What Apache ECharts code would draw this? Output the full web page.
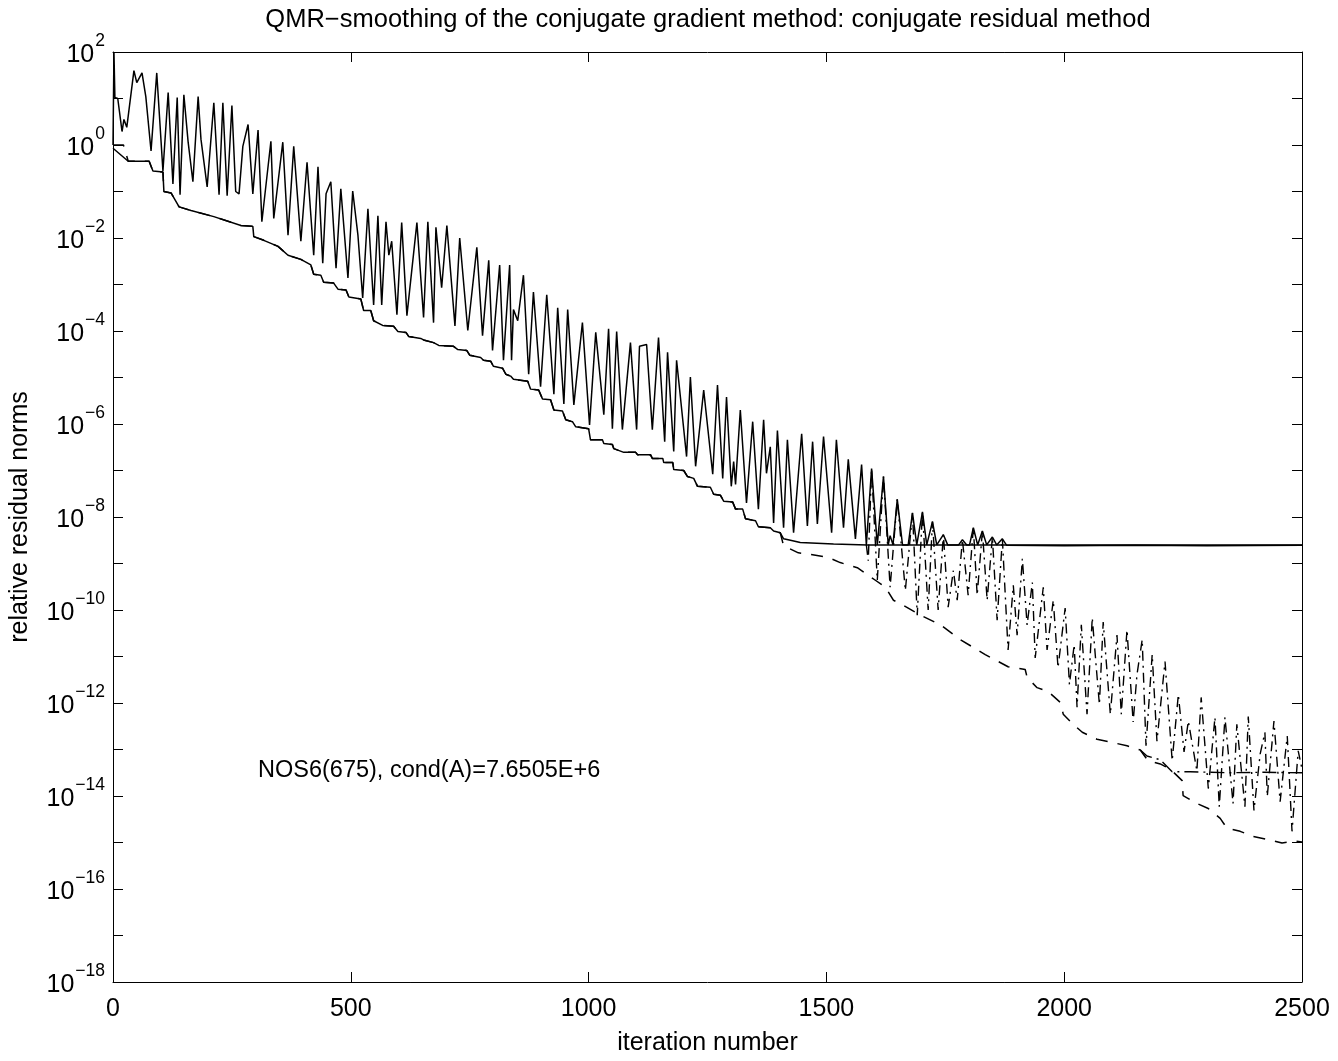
<!DOCTYPE html>
<html><head><meta charset="utf-8">
<script src="https://cdn.jsdelivr.net/npm/echarts@6/dist/echarts.min.js"></script>
<style>html,body{margin:0;padding:0;background:#fff}#c{width:1338px;height:1061px}</style>
</head><body><div id="c"></div>
<script>
// ---- data (iteration numbers and log10 of the relative residual norm) ----
const cgIter = [0,2,4,10,19,23,29,44,50,61,69,80,92,105,116,126,135,141,149,158,168,179,185,198,212,223,231,240,250,258,265,273,284,294,305,313,332,338,357,368,380,395,408,422,431,441,448,458,469,479,494,504,515,525,536,548,557,565,574,580,586,597,607,618,639,653,662,674,679,691,702,719,729,746,765,777,790,798,813,821,834,838,842,851,863,874,884,899,912,927,935,948,956,969,979,987,1002,1015,1032,1042,1050,1059,1071,1088,1101,1107,1122,1134,1147,1160,1166,1179,1185,1206,1214,1225,1242,1261,1271,1282,1290,1300,1305,1309,1319,1332,1345,1357,1368,1374,1382,1389,1397,1410,1418,1431,1448,1460,1471,1481,1494,1511,1521,1536,1546,1561,1574,1584,1595,1607,1620,1630,1634,1640,1649,1660,1672,1681,1690,1694,1702,1711,1723,1732,1746,1755,1778,1786,1795,1801,1809,1818,1821,1828,1837,1841,1849,1858,1862,1870,1879,2000,2150,2300,2500];
const cgLog = [0,2,1.02,1.0,0.29,0.55,0.38,1.6,1.34,1.55,1.04,-0.13,1.55,-0.56,1.13,-0.84,1.02,-1.07,1.08,0.06,-0.79,1.04,0.12,-0.9,0.91,-1.07,0.91,-1.09,0.85,-1.0,-1.05,-0.03,0.44,-1.05,0.32,-1.65,0.08,-1.58,0.06,-1.94,-0.03,-2.07,-0.37,-2.37,-0.47,-2.54,-1.05,-0.79,-2.65,-0.94,-2.86,-0.99,-1.94,-3.29,-1.37,-3.44,-1.52,-3.44,-1.65,-2.37,-2.07,-3.65,-1.67,-3.67,-1.67,-3.71,-1.65,-3.82,-1.77,-3.07,-1.73,-3.89,-2.0,-3.99,-2.2,-4.1,-2.48,-4.42,-2.58,-4.63,-2.58,-4.63,-3.54,-3.78,-2.8,-4.93,-3.16,-5.2,-3.22,-5.36,-3.5,-5.57,-3.54,-5.59,-4.6,-3.82,-6.02,-4.03,-5.8,-3.95,-6.1,-4.01,-6.12,-4.25,-6.12,-4.33,-4.29,-6.12,-4.14,-6.38,-4.46,-6.59,-4.63,-6.7,-4.99,-6.91,-5.27,-7.08,-5.16,-7.17,-5.42,-7.34,-6.81,-7.3,-5.7,-7.7,-5.95,-7.83,-5.91,-7.06,-6.49,-8.13,-6.14,-8.23,-6.34,-8.34,-6.21,-8.19,-6.38,-8.15,-6.27,-8.34,-6.34,-8.23,-6.76,-8.47,-6.87,-8.6,-6.96,-8.6,-7.13,-8.6,-8.4,-8.6,-7.62,-8.6,-8.6,-7.91,-8.6,-8.6,-7.89,-8.6,-8.1,-8.6,-8.38,-8.6,-8.6,-8.49,-8.6,-8.6,-8.23,-8.6,-8.6,-8.3,-8.6,-8.6,-8.43,-8.6,-8.6,-8.47,-8.61,-8.62,-8.61,-8.62,-8.61];

const crIter = [0,2,32,76,84,105,107,122,139,164,212,269,294,296,317,347,368,395,416,422,437,443,464,473,490,496,521,527,542,548,567,590,599,616,622,647,655,674,685,716,725,744,750,773,779,794,800,819,826,836,842,872,878,895,903,920,927,945,952,966,973,1000,1004,1029,1032,1050,1053,1074,1099,1103,1130,1134,1156,1158,1177,1179,1200,1208,1221,1229,1256,1263,1277,1284,1303,1309,1324,1330,1351,1357,1382,1389,1403,1410,1429,1445,1515,1586,2000,2500];
const crLog = [-0.07,-0.11,-0.35,-0.35,-0.56,-0.58,-1.0,-1.03,-1.33,-1.41,-1.54,-1.73,-1.75,-1.97,-2.05,-2.18,-2.37,-2.46,-2.58,-2.78,-2.8,-2.95,-2.97,-3.1,-3.12,-3.27,-3.31,-3.56,-3.56,-3.78,-3.88,-3.9,-4.01,-4.03,-4.12,-4.16,-4.2,-4.25,-4.31,-4.33,-4.4,-4.42,-4.52,-4.57,-4.63,-4.65,-4.76,-4.8,-4.93,-4.97,-5.04,-5.08,-5.25,-5.27,-5.46,-5.48,-5.7,-5.72,-5.91,-5.95,-6.06,-6.1,-6.34,-6.34,-6.42,-6.44,-6.53,-6.61,-6.61,-6.66,-6.66,-6.74,-6.74,-6.83,-6.83,-6.98,-7.0,-7.13,-7.17,-7.34,-7.36,-7.51,-7.53,-7.66,-7.68,-7.83,-7.83,-8.04,-8.08,-8.21,-8.23,-8.3,-8.34,-8.47,-8.51,-8.55,-8.58,-8.6,-8.6,-8.6];

// recursively updated residuals (continue below the attainable accuracy)
const crRecHeadIter = [0,22];
const crRecHeadLog = [0,0];
const crRecIter = [1410,1441,1471,1504,1529,1565,1582,1603,1624,1641,1662,1698,1740,1782,1834,1882,1918,1922,1943,1966,1992,1998,2019,2038,2069,2097,2132,2160,2176,2202,2223,2248,2250,2279,2303,2328,2342,2370,2397,2433,2458,2485,2500];
const crRecLog = [-8.62,-8.77,-8.81,-8.87,-8.98,-9.09,-9.21,-9.36,-9.51,-9.79,-9.9,-10.11,-10.32,-10.64,-10.96,-11.22,-11.28,-11.45,-11.67,-11.75,-11.99,-12.24,-12.46,-12.63,-12.78,-12.84,-12.92,-13.01,-13.24,-13.31,-13.42,-13.67,-13.99,-14.16,-14.27,-14.48,-14.69,-14.76,-14.87,-14.95,-15.01,-14.97,-14.99];

const cgRecIter = [1584,1588,1595,1607,1620,1634,1649,1666,1681,1691,1702,1714,1723,1735,1746,1756,1767,1775,1786,1798,1809,1817,1828,1838,1849,1859,1870,1882,1893,1901,1912,1922,1933,1939,1956,1964,1977,1987,2002,2011,2021,2027,2036,2048,2059,2067,2074,2082,2097,2111,2120,2132,2145,2153,2164,2172,2185,2195,2212,2227,2240,2252,2261,2279,2288,2303,2317,2326,2338,2355,2363,2380,2387,2399,2412,2422,2427,2441,2454,2469,2479,2492,2500];
const cgRecLog = [-8.6,-8.94,-6.96,-9.36,-7.13,-9.51,-7.62,-9.58,-7.91,-10.11,-7.89,-10.0,-8.1,-10.0,-8.38,-9.94,-9.15,-9.79,-8.49,-9.68,-8.23,-9.68,-8.3,-9.79,-8.43,-10.22,-8.47,-10.86,-9.47,-10.54,-8.9,-10.32,-9.41,-11.03,-9.51,-10.86,-9.79,-11.24,-9.96,-11.6,-10.75,-12.09,-10.32,-12.24,-10.17,-11.18,-12.03,-10.26,-12.24,-10.54,-12.24,-10.43,-12.41,-11.39,-10.64,-12.92,-10.96,-12.82,-11.11,-13.24,-11.82,-13.05,-12.39,-13.46,-11.88,-13.84,-12.31,-14.23,-12.31,-14.16,-12.46,-14.23,-12.29,-14.31,-13.1,-12.63,-14.01,-12.39,-14.12,-12.71,-14.76,-13.03,-13.42];

const smIter = [2160,2174,2202,2227,2265,2349,2420,2500];
const smLog = [-13.01,-13.14,-13.22,-13.48,-13.48,-13.5,-13.49,-13.5];

const xTickValues = [0,500,1000,1500,2000,2500];
const yMinExp = -18, yMaxExp = 2;
const titleText = 'QMR\u2212smoothing of the conjugate gradient method: conjugate residual method';
const noteText = 'NOS6(675), cond(A)=7.6505E+6';

// ---- build ----
const pairs = (it, lg) => it.map((x, i) => [x, Math.pow(10, lg[i])]);
const cgData = pairs(cgIter, cgLog);
const crData = pairs(crIter, crLog);
const crRecData = pairs(crRecHeadIter, crRecHeadLog)
  .concat(pairs(crIter, crLog).filter(p => p[0] >= 32 && p[0] <= 1403))
  .concat(pairs(crRecIter, crRecLog));
const cgRecData = pairs(cgRecIter, cgRecLog);
const smData = pairs(smIter, smLog);

const FONT = '"Liberation Sans", Arial, Helvetica, sans-serif';
const black = {color: '#000', width: 1};
const chart = echarts.init(document.getElementById('c'), null, {renderer: 'canvas'});

function yLabel(v) {
  const e = Math.round(Math.log10(v));
  if (e % 2 !== 0) return '';
  return '{a|10}{b|' + (e < 0 ? '\u2212' + (-e) : String(e)) + '}';
}

const yCommon = {
  type: 'log', logBase: 10, min: Math.pow(10, yMinExp), max: Math.pow(10, yMaxExp), interval: 1,
  axisLine: {show: true, onZero: false, lineStyle: black},
  axisTick: {show: true, inside: true, length: 10, lineStyle: black},
  splitLine: {show: false}, minorTick: {show: false}
};
const xCommon = {
  type: 'value', min: xTickValues[0], max: xTickValues[xTickValues.length - 1], interval: 500,
  axisLine: {show: true, onZero: false, lineStyle: black},
  axisTick: {show: true, inside: true, length: 10, lineStyle: black},
  splitLine: {show: false}
};

const lineSeries = (name, data, type, w) => ({
  name, type: 'line', data, showSymbol: false, symbol: 'none', smooth: false,
  xAxisIndex: 0, yAxisIndex: 0, animation: false, z: 3,
  lineStyle: {color: '#000', width: w, type: type}
});

chart.setOption({
  animation: false,
  backgroundColor: '#fff',
  grid: {left: 112, right: 36, top: 52, bottom: 71, containLabel: false},
  title: {text: titleText, left: 703, top: 2, textAlign: 'center',
    textStyle: {fontFamily: FONT, fontSize: 25.5, fontWeight: 'normal', color: '#000'}},
  xAxis: [
    Object.assign({}, xCommon, {position: 'bottom',
      axisLabel: {color: '#000', fontFamily: FONT, fontSize: 25, margin: 15,
        formatter: v => String(v)},
      name: 'iteration number', nameLocation: 'middle', nameGap: 49,
      nameTextStyle: {fontFamily: FONT, fontSize: 25, color: '#000'}}),
    Object.assign({}, xCommon, {position: 'top', axisLabel: {show: false}})
  ],
  yAxis: [
    Object.assign({}, yCommon, {position: 'left',
      axisLabel: {color: '#000', fontFamily: FONT, margin: 8, formatter: yLabel,
        rich: {
          a: {fontFamily: FONT, fontSize: 25, lineHeight: 26, verticalAlign: 'middle', padding: [6, 0, 0, 0], color: '#000'},
          b: {fontFamily: FONT, fontSize: 17.5, lineHeight: 18, verticalAlign: 'middle', padding: [0, 0, 22, 1], color: '#000'}
        }},
      name: 'relative residual norms', nameLocation: 'middle', nameGap: 80, nameRotate: 90,
      nameTextStyle: {fontFamily: FONT, fontSize: 25, color: '#000'}}),
    Object.assign({}, yCommon, {position: 'right', axisLabel: {show: false}})
  ],
  graphic: [{type: 'text', left: 258, top: 759, z: 10,
    style: {text: noteText, fontFamily: FONT, fontSize: 23.5, fill: '#000'}}],
  series: [
    lineSeries('cg', cgData, 'solid', 1.5),
    lineSeries('cr', crData, 'solid', 1.5),
    lineSeries('crRec', crRecData, [12, 10], 1.5),
    lineSeries('cgRec', cgRecData, [10, 5, 2, 5], 1.4),
    lineSeries('sm', smData, [14, 5, 2, 5], 1.4)
  ]
});
</script>
</body></html>
